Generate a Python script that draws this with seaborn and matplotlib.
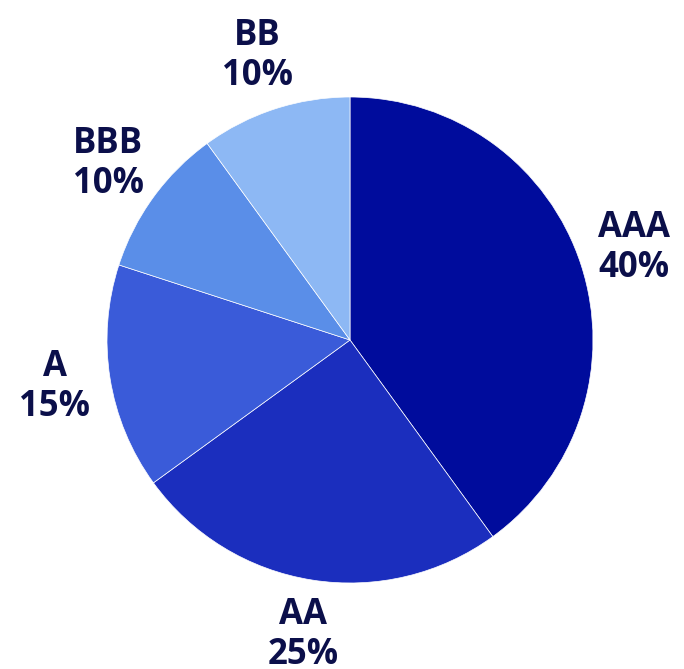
import matplotlib
matplotlib.use("Agg")
import matplotlib.pyplot as plt
import seaborn as sns

# ratings split
ratings = ["AAA", "AA", "A", "BBB", "BB"]
shares = [40, 25, 15, 10, 10]
colors = ["#000C9C", "#1B2EBE", "#3A5BD9", "#5A8EE8", "#8DB8F4"]

sns.set_style("white")
plt.rcParams['font.family'] = ['Open Sans', 'DejaVu Sans']

fig = plt.figure(figsize=(6.84, 6.69), dpi=100)
cx, cy, r = 350, 340, 243
ax = fig.add_axes([(cx - r) / 684, (669 - cy - r) / 669, 2 * r / 684, 2 * r / 669])

labels = [f"{k}\n{v}%" for k, v in zip(ratings, shares)]
wedges, texts = ax.pie(
    shares,
    labels=labels,
    colors=colors,
    startangle=90,
    counterclock=False,
    labeldistance=1.23,
    wedgeprops=dict(edgecolor="white", linewidth=0.5),
    textprops=dict(fontsize=25, fontweight="bold", color="#0B0F4A", linespacing=1.15),
)
for t in texts:
    t.set_ha("center")
    t.set_va("center")

ax.set_xlim(-1, 1)
ax.set_ylim(-1, 1)
ax.set_aspect("equal")
ax.axis("off")

fig.savefig("out.png", dpi=100)
